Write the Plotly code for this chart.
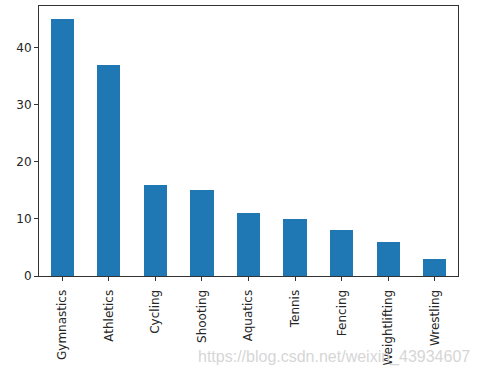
import plotly.graph_objects as go

sports = ["Gymnastics", "Athletics", "Cycling", "Shooting", "Aquatics",
          "Tennis", "Fencing", "Weightlifting", "Wrestling"]
counts = [45, 37, 16, 15, 11, 10, 8, 6, 3]
y_ticks = [0, 10, 20, 30, 40]
watermark = "https://blog.csdn.net/weixin_43934607"

fig = go.Figure(go.Bar(
    x=sports, y=counts, width=0.5,
    marker=dict(color="#1f77b4", line=dict(width=0)),
))

axis_font = dict(family="DejaVu Sans", size=12, color="#262626")
fig.update_layout(
    width=481, height=375,
    margin=dict(l=39, r=23, t=6, b=99),
    paper_bgcolor="white", plot_bgcolor="white",
    showlegend=False,
    bargap=0,
    xaxis=dict(
        range=[-0.5, 8.5], tickangle=-90, tickfont=axis_font,
        showline=True, mirror=True, linecolor="#333333", linewidth=1,
        ticks="outside", ticklen=4, tickcolor="#333333", showgrid=False,
        zeroline=False, ticklabelstandoff=4,
    ),
    yaxis=dict(
        range=[0, 47.25], tickvals=y_ticks, tickfont=axis_font,
        showline=True, mirror=True, linecolor="#333333", linewidth=1,
        ticks="outside", ticklen=4, tickcolor="#333333", showgrid=False,
        zeroline=False,
    ),
    annotations=[dict(
        text=watermark, xref="paper", yref="paper", x=1.033, y=-0.3,
        xanchor="right", yanchor="middle", showarrow=False,
        font=dict(family="Liberation Sans", size=16, color="#d6d6d6"),
    )],
)

fig.write_html("out.html", config={"displayModeBar": False},
               post_script="document.body.style.margin='0';")
